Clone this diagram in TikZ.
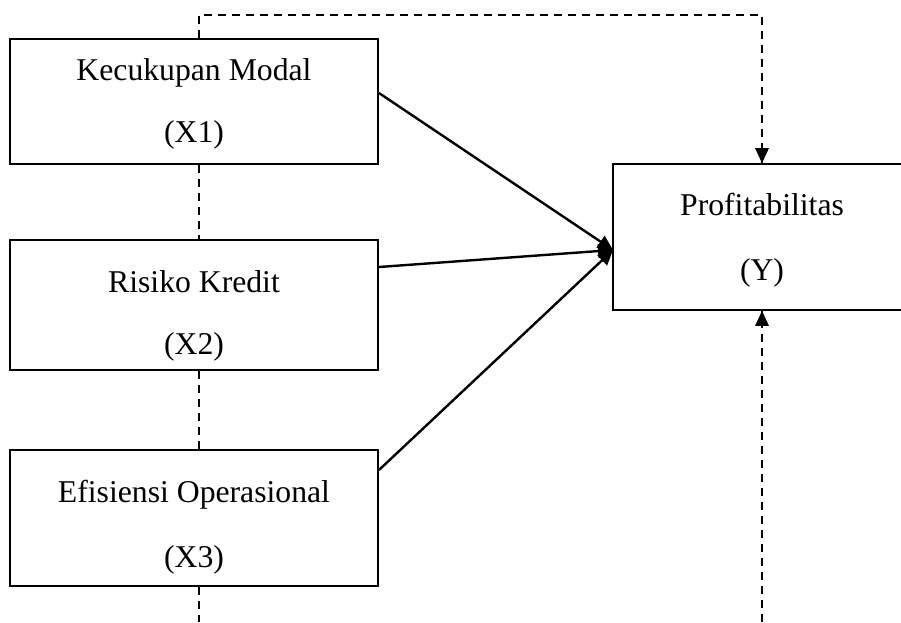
\documentclass[tikz,border=0pt]{standalone}
\usepackage{fontspec}
\setmainfont{Liberation Serif}
\usetikzlibrary{arrows.meta}
\begin{document}
\begin{tikzpicture}[x=1pt,y=-1pt,
  varbox/.style={draw, line width=1.9pt, rectangle, inner sep=0pt},
  lbl/.style={anchor=base, inner sep=0pt, font=\fontsize{31.7}{38}\selectfont},
  effect/.style={line width=2.4pt, -{Triangle[length=15pt,width=14pt]}},
  linkdash/.style={line width=1.9pt, dash pattern=on 8pt off 6pt}]
\useasboundingbox (0,0) rectangle (901,622);
\clip (0,0) rectangle (901,622);

% independent variables
\node[varbox, minimum width=368pt, minimum height=125pt] (x1) at (194,101.5) {};
\node[varbox, minimum width=368pt, minimum height=130pt] (x2) at (194,305) {};
\node[varbox, minimum width=368pt, minimum height=136pt] (x3) at (194,518) {};
% dependent variable (box runs past the right edge)
\node[varbox, minimum width=300pt, minimum height=146pt] (y) at (763,237) {};

\node[lbl] (x1a) at (194,80) {Kecukupan Modal};
\node[lbl] (x1b) at (194,142) {(X1)};
\node[lbl] (x2a) at (194,292) {Risiko Kredit};
\node[lbl] (x2b) at (194,354) {(X2)};
\node[lbl] (x3a) at (194,502) {Efisiensi Operasional};
\node[lbl] (x3b) at (194,567) {(X3)};
\node[lbl] (ya) at (762,215) {Profitabilitas};
\node[lbl] (yb) at (762,280) {(Y)};

% helper points for the dashed links
\coordinate (tl) at (199,15);
\coordinate (tr) at (762,15);
\coordinate (bl) at (199,622);
\coordinate (br) at (762,622);
\coordinate (yin) at (613,250);

% partial effects
\draw[effect] (x1.east |- 0,93) -- (yin);
\draw[effect] (x2.east |- 0,267) -- (yin);
\draw[effect] (x3.east |- 0,470) -- (yin);

% simultaneous effect (dashed)
\draw[linkdash] (x1.north -| tl) -- (tl) -- (tr) -- (tr |- y.north);
\draw[linkdash] (x1.south -| tl) -- (x2.north -| tl);
\draw[linkdash] (x2.south -| tl) -- (x3.north -| tl);
\draw[linkdash] (x3.south -| tl) -- (bl);
\draw[linkdash] (br) -- (br |- y.south);
\fill (tr |- y.north) -- ++(-7,-15) -- ++(14,0) -- cycle;
\fill (br |- y.south) -- ++(-7,15) -- ++(14,0) -- cycle;
\end{tikzpicture}
\end{document}
